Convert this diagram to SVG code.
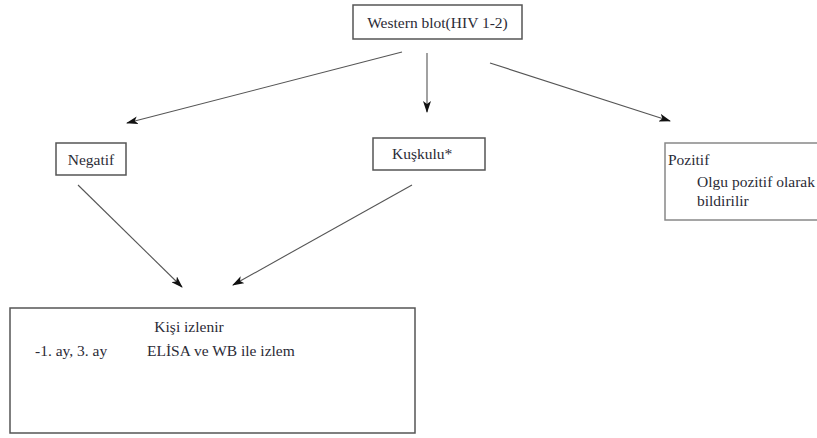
<svg xmlns="http://www.w3.org/2000/svg" width="817" height="438" viewBox="0 0 817 438">
<style>
.box{fill:#fff;stroke:#555;stroke-width:1.5}
.t{font-family:'Liberation Serif','DejaVu Serif',serif;font-size:15.5px;fill:#2b2b36}
.c{fill:none;stroke:#555;stroke-width:1.1;marker-end:url(#ah)}
</style>
<defs>
<marker id="ah" viewBox="0 0 12 8" refX="11" refY="4" markerWidth="12" markerHeight="8" markerUnits="userSpaceOnUse" orient="auto">
<path d="M0,0 L12,4 L0,8 L3,4 Z" fill="#111"/>
</marker>
</defs>
<rect width="817" height="438" fill="#fff"/>
<g id="connectors">
<line class="c" x1="402" y1="52" x2="127" y2="123"/>
<line class="c" x1="427" y1="53" x2="427" y2="112"/>
<line class="c" x1="490" y1="63" x2="670" y2="121"/>
<line class="c" x1="78" y1="185" x2="182" y2="287"/>
<line class="c" x1="412" y1="185" x2="233" y2="285"/>
</g>
<g id="western">
<rect class="box" x="353" y="5" width="169" height="34"/>
<text class="t" x="437.5" y="28" text-anchor="middle">Western blot(HIV 1-2)</text>
</g>
<g id="negatif">
<rect class="box" x="56" y="143" width="70" height="32"/>
<text class="t" x="91" y="165" text-anchor="middle">Negatif</text>
</g>
<g id="kuskulu">
<rect class="box" x="373" y="138" width="112" height="32"/>
<text class="t" x="392" y="159">Kuşkulu*</text>
</g>
<g id="pozitif">
<rect class="box" x="665" y="143" width="170" height="77" style="stroke:#888"/>
<text class="t" x="668" y="165">Pozitif</text>
<text class="t" x="697" y="187">Olgu pozitif olarak</text>
<text class="t" x="697" y="206">bildirilir</text>
</g>
<g id="izlem">
<rect class="box" x="10" y="308" width="405" height="125"/>
<text class="t" x="189" y="332" text-anchor="middle">Kişi izlenir</text>
<text class="t" x="35" y="356">-1. ay, 3. ay</text>
<text class="t" x="147" y="356">ELİSA ve WB ile izlem</text>
</g>
</svg>
